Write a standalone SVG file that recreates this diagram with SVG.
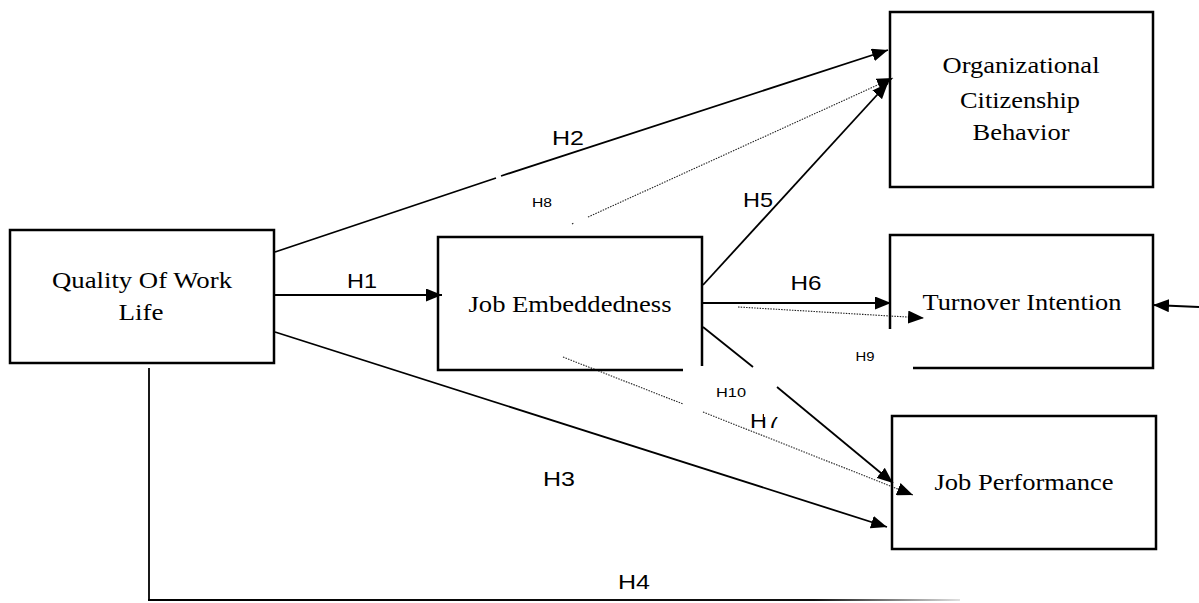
<svg xmlns="http://www.w3.org/2000/svg" width="1199" height="603" viewBox="0 0 1199 603">
<style>
.box{fill:none;stroke:#000;stroke-width:2.5}
.nt{font-family:"Liberation Serif","Times New Roman",serif;font-size:24px;fill:#000;text-anchor:middle}
.lb{font-family:"Liberation Sans",Arial,sans-serif;font-size:21px;fill:#000;text-anchor:middle}
.sl{font-family:"Liberation Sans",Arial,sans-serif;font-size:13px;fill:#000;text-anchor:middle}
.c{fill:none;stroke:#000;stroke-width:1.8}
.d{fill:none;stroke:#222;stroke-width:1.1;stroke-dasharray:1.5 1.2}
</style>
<defs>
<marker id="ah" markerUnits="userSpaceOnUse" markerWidth="16" markerHeight="13" refX="16" refY="6.5" orient="auto" viewBox="0 0 16 13">
<path d="M0,0 L16,6.5 L0,13 z" fill="#000"/>
</marker>
<linearGradient id="fade" gradientUnits="userSpaceOnUse" x1="148" y1="0" x2="960" y2="0">
<stop offset="0" stop-color="#000"/>
<stop offset="0.82" stop-color="#111"/>
<stop offset="1" stop-color="#e0e0e0"/>
</linearGradient>
<clipPath id="h7clip">
<rect x="740" y="380" width="24" height="60"/>
<rect x="740" y="417" width="60" height="20"/>
</clipPath>
</defs>

<g id="connectors">
<line class="c" x1="275" y1="295" x2="442" y2="295" marker-end="url(#ah)"/>
<line class="c" x1="275" y1="252" x2="496" y2="178"/>
<line class="c" x1="501" y1="176" x2="888" y2="50" marker-end="url(#ah)"/>
<line class="d" x1="572" y1="224" x2="574" y2="223"/>
<line class="d" x1="588" y1="217" x2="893" y2="78" marker-end="url(#ah)"/>
<line class="c" x1="703" y1="285" x2="888" y2="83" marker-end="url(#ah)"/>
<line class="c" x1="703" y1="303" x2="891" y2="303" marker-end="url(#ah)"/>
<line class="d" x1="738" y1="307" x2="924" y2="318" marker-end="url(#ah)"/>
<line class="c" x1="703" y1="327" x2="753" y2="367"/>
<line class="c" x1="777" y1="387" x2="893" y2="483" marker-end="url(#ah)"/>
<line class="d" x1="563" y1="357" x2="683" y2="404"/>
<line class="d" x1="703" y1="412" x2="913" y2="495" marker-end="url(#ah)"/>
<line class="c" x1="275" y1="332" x2="887" y2="527" marker-end="url(#ah)"/>
<line class="c" x1="149" y1="368" x2="149" y2="601" stroke-width="1.5"/>
<line x1="148" y1="600" x2="960" y2="600" stroke="url(#fade)" stroke-width="2"/>
<line class="c" x1="1199" y1="307" x2="1153" y2="305" marker-end="url(#ah)"/>
</g>

<g id="labels">
<text class="lb" x="362" y="288" textLength="30" lengthAdjust="spacingAndGlyphs">H1</text>
<text class="lb" x="568" y="145" textLength="32" lengthAdjust="spacingAndGlyphs">H2</text>
<text class="sl" x="542" y="207" textLength="20" lengthAdjust="spacingAndGlyphs">H8</text>
<text class="lb" x="758" y="207" textLength="30" lengthAdjust="spacingAndGlyphs">H5</text>
<text class="lb" x="806" y="290" textLength="31" lengthAdjust="spacingAndGlyphs">H6</text>
<text class="sl" x="865" y="361" textLength="19" lengthAdjust="spacingAndGlyphs">H9</text>
<text class="sl" x="731" y="397" textLength="30" lengthAdjust="spacingAndGlyphs">H10</text>
<text class="lb" x="765" y="428" textLength="30" lengthAdjust="spacingAndGlyphs" clip-path="url(#h7clip)">H7</text>
<text class="lb" x="559" y="486" textLength="32" lengthAdjust="spacingAndGlyphs">H3</text>
<text class="lb" x="634" y="589" textLength="32" lengthAdjust="spacingAndGlyphs">H4</text>
</g>

<g id="qwl">
<rect class="box" x="10" y="230" width="264" height="133"/>
<text class="nt" x="142" y="288" textLength="180" lengthAdjust="spacingAndGlyphs">Quality Of Work</text>
<text class="nt" x="141" y="320" textLength="45" lengthAdjust="spacingAndGlyphs">Life</text>
</g>

<g id="je">
<path class="box" d="M683,370 H438 V237 H702 V366"/>
<text class="nt" x="570" y="312" textLength="203" lengthAdjust="spacingAndGlyphs">Job Embeddedness</text>
</g>

<g id="ocb">
<rect class="box" x="890" y="12" width="263" height="175"/>
<text class="nt" x="1021" y="73" textLength="157" lengthAdjust="spacingAndGlyphs">Organizational</text>
<text class="nt" x="1020" y="108" textLength="120" lengthAdjust="spacingAndGlyphs">Citizenship</text>
<text class="nt" x="1021" y="140" textLength="97" lengthAdjust="spacingAndGlyphs">Behavior</text>
</g>

<g id="ti">
<path class="box" d="M890,329 V235 H1153 V368 H913"/>
<text class="nt" x="1022" y="310" textLength="199" lengthAdjust="spacingAndGlyphs">Turnover Intention</text>
</g>

<g id="jp">
<rect class="box" x="892" y="416" width="264" height="133"/>
<text class="nt" x="1024" y="490" textLength="179" lengthAdjust="spacingAndGlyphs">Job Performance</text>
</g>
</svg>
